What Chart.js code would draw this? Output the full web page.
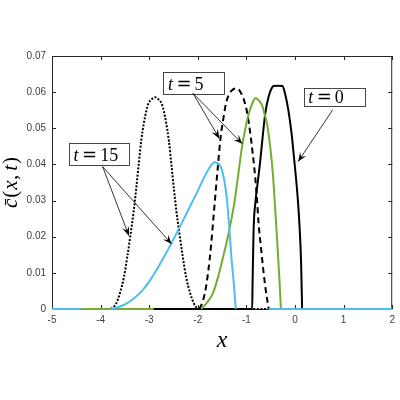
<!DOCTYPE html>
<html><head><meta charset="utf-8">
<script src="https://cdn.jsdelivr.net/npm/chart.js@4.4.1/dist/chart.umd.min.js"></script>
<style>html,body{margin:0;padding:0;background:#fff}canvas{display:block}</style>
</head><body>
<canvas id="c" width="400" height="400"></canvas>
<script>
// ---- axis ticks ----
const xTicks = [-5, -4, -3, -2, -1, 0, 1, 2];
const yTicks = [0, 0.01, 0.02, 0.03, 0.04, 0.05, 0.06, 0.07];
const yTickLabels = ['0', '0.01', '0.02', '0.03', '0.04', '0.05', '0.06', '0.07'];

// ---- t = 0 (black solid) ----
const t0X = [-2.91, -0.882, -0.872, -0.852, -0.811, -0.761, -0.714, -0.665, -0.612, -0.544, -0.49, -0.442, -0.35, -0.26, -0.207, -0.138, -0.071, -0.016, 0.024, 0.065, 0.097, 0.125, 0.146];
const t0Y = [0, 0, 0.008, 0.022, 0.030, 0.0357, 0.0412, 0.0477, 0.0541, 0.0587, 0.0608, 0.0617, 0.0618, 0.0617, 0.0597, 0.0551, 0.0486, 0.0412, 0.0357, 0.029, 0.0219, 0.013, 0];

// ---- t = 5 (black dashed) ----
const t5aX = [-1.97, -1.90, -1.83, -1.78, -1.73, -1.68, -1.63, -1.58, -1.53, -1.47, -1.42, -1.35, -1.29, -1.22, -1.15, -1.10, -1.05, -0.98, -0.92, -0.87, -0.82, -0.78, -0.75, -0.70, -0.66, -0.60, -0.54];
const t5aY = [0, 0.0020, 0.0062, 0.0110, 0.0172, 0.0250, 0.0329, 0.0405, 0.0477, 0.0530, 0.0569, 0.0596, 0.0606, 0.0610, 0.0606, 0.0595, 0.0578, 0.0540, 0.0486, 0.0430, 0.0366, 0.0300, 0.0237, 0.0170, 0.0117, 0.0050, 0];

// ---- t = 5 (green) ----
const t5bX = [-4.41, -2.91, -2.4, -1.93, -1.81, -1.69, -1.58, -1.46, -1.35, -1.25, -1.17, -1.09, -1.02, -0.95, -0.87, -0.815, -0.75, -0.68, -0.62, -0.578, -0.511, -0.456, -0.40, -0.36, -0.32, -0.29];
const t5bY = [0, 0, null, 0, 0.0018, 0.0043, 0.0090, 0.0154, 0.0220, 0.0292, 0.0370, 0.0449, 0.0500, 0.0541, 0.0572, 0.0583, 0.0578, 0.0564, 0.0536, 0.0514, 0.0449, 0.0375, 0.0260, 0.0172, 0.0080, 0];

// ---- t = 15 (black dotted) ----
const t15aX = [-3.79, -3.68, -3.60, -3.52, -3.45, -3.38, -3.32, -3.27, -3.22, -3.165, -3.11, -3.06, -3.015, -2.95, -2.88, -2.81, -2.745, -2.70, -2.65, -2.595, -2.54, -2.49, -2.44, -2.38, -2.31, -2.24, -2.16, -2.08, -2.00, -1.4, -0.86, -0.56];
const t15aY = [0, 0.0015, 0.0045, 0.0088, 0.0145, 0.0210, 0.0270, 0.0330, 0.0395, 0.0465, 0.0514, 0.0548, 0.0569, 0.0580, 0.0586, 0.0580, 0.0569, 0.0548, 0.0514, 0.0465, 0.0395, 0.0330, 0.0270, 0.0210, 0.0145, 0.0088, 0.0045, 0.0015, 0, null, 0, 0];

// ---- t = 15 (blue) ----
const t15bX = [-5, -4.41, -4.1, -3.79, -3.64, -3.48, -3.31, -3.15, -2.98, -2.81, -2.68, -2.54, -2.41, -2.27, -2.13, -2.0, -1.90, -1.80, -1.73, -1.66, -1.59, -1.525, -1.456, -1.40, -1.355, -1.31, -1.254, -1.22, -0.9, -0.54, 2];
const t15bY = [0, 0, null, 0, 0.0005, 0.0014, 0.0030, 0.0050, 0.0080, 0.0117, 0.0148, 0.0183, 0.0217, 0.0254, 0.0292, 0.0327, 0.0356, 0.0382, 0.0397, 0.0406, 0.0403, 0.0392, 0.0357, 0.0302, 0.0228, 0.0145, 0.0062, 0, null, 0, 0];

// ---- annotation labels ----
const noteNums = ['15', '5', '0'];

// annotation placement (data units)
const notes = [
  {box: [-4.649, 0.0460, -3.417, 0.0400], from: [-3.959, 0.0394], to: [[-3.418, 0.0203], [-2.540, 0.0180]]},
  {box: [-2.708, 0.0657, -1.444, 0.0597], from: [-2.099, 0.0597], to: [[-1.558, 0.0472], [-1.085, 0.0457]]},
  {box: [0.178, 0.0611, 1.436, 0.0560], from: [0.775, 0.0551], to: [[0.065, 0.0408]]}
];

function pts(xs, ys) { return xs.map((x, i) => ({x: x, y: ys[i]})); }

const SERIF = '"Liberation Serif", "DejaVu Serif", serif';

function drawSegs(ctx, segs, x, y, doDraw) {
  let cx = x;
  for (const s of segs) {
    ctx.font = s.f;
    cx += (s.pre || 0);
    if (doDraw) ctx.fillText(s.t, cx, y);
    cx += ctx.measureText(s.t).width + (s.post || 0);
  }
  return cx - x;
}

function arrowHead(ctx, x0, y0, x1, y1) {
  const dx = x1 - x0, dy = y1 - y0, len = Math.hypot(dx, dy);
  const ux = dx / len, uy = dy / len, nx = -uy, ny = ux;
  const L = 9, W = 3.6;
  ctx.beginPath();
  ctx.moveTo(x1, y1);
  ctx.lineTo(x1 - L * ux + W * nx, y1 - L * uy + W * ny);
  ctx.lineTo(x1 - 0.6 * L * ux, y1 - 0.6 * L * uy);
  ctx.lineTo(x1 - L * ux - W * nx, y1 - L * uy - W * ny);
  ctx.closePath();
  ctx.fill();
}

const decor = {
  id: 'decor',
  beforeDatasetsDraw(chart) {
    const ctx = chart.ctx, a = chart.chartArea, xs = chart.scales.x, ys = chart.scales.y;
    ctx.save();
    ctx.strokeStyle = '#262626';
    ctx.lineWidth = 1;
    ctx.strokeRect(a.left + 0.5, a.top + 0.5, a.right - a.left - 1, a.bottom - a.top);
    ctx.beginPath();
    for (const v of xTicks) {
      const px = Math.round(xs.getPixelForValue(v)) + 0.5;
      ctx.moveTo(px, a.bottom); ctx.lineTo(px, a.bottom - 4);
      ctx.moveTo(px, a.top); ctx.lineTo(px, a.top + 4);
    }
    for (const v of yTicks) {
      const py = Math.round(ys.getPixelForValue(v)) + 0.5;
      ctx.moveTo(a.left, py); ctx.lineTo(a.left + 4, py);
      ctx.moveTo(a.right, py); ctx.lineTo(a.right - 4, py);
    }
    ctx.stroke();
    ctx.restore();
  },
  afterDraw(chart) {
    const ctx = chart.ctx, a = chart.chartArea, xs = chart.scales.x, ys = chart.scales.y;
    ctx.save();
    ctx.fillStyle = '#000';
    ctx.textBaseline = 'alphabetic';
    ctx.textAlign = 'left';
    ctx.font = 'italic 24px ' + SERIF;
    const xw = ctx.measureText('x').width;
    ctx.fillText('x', (a.left + a.right) / 2 - xw / 2, 347);

    const ySegs = [
      {t: 'c\u0304', f: 'italic 21px ' + SERIF, post: 1},
      {t: '(', f: '21px ' + SERIF, post: 1},
      {t: 'x', f: 'italic 21px ' + SERIF, post: 0.5},
      {t: ',', f: '21px ' + SERIF, post: 4},
      {t: 't', f: 'italic 21px ' + SERIF, post: 1},
      {t: ')', f: '21px ' + SERIF}
    ];
    ctx.save();
    ctx.translate(17, (a.top + a.bottom) / 2);
    ctx.rotate(-Math.PI / 2);
    const yw = drawSegs(ctx, ySegs, 0, 0, false);
    drawSegs(ctx, ySegs, -yw / 2, 0, true);
    ctx.restore();

    notes.forEach((n, i) => {
      const bx0 = xs.getPixelForValue(n.box[0]), by0 = ys.getPixelForValue(n.box[1]);
      const bx1 = xs.getPixelForValue(n.box[2]), by1 = ys.getPixelForValue(n.box[3]);
      ctx.strokeStyle = '#333';
      ctx.lineWidth = 0.9;
      ctx.strokeRect(Math.round(bx0) + 0.5, Math.round(by0) + 0.5, Math.round(bx1 - bx0), Math.round(by1 - by0));
      ctx.fillStyle = '#000';
      const segs = [
        {t: 't', f: 'italic 18px ' + SERIF, post: 3.5},
        {t: '=', f: '18px "DejaVu Serif", serif', post: 3},
        {t: noteNums[i], f: '18px ' + SERIF}
      ];
      drawSegs(ctx, segs, bx0 + 4.5, by1 - 3.5, true);
      const fx = xs.getPixelForValue(n.from[0]), fy = ys.getPixelForValue(n.from[1]);
      ctx.strokeStyle = '#000';
      ctx.lineWidth = 0.8;
      for (const t of n.to) {
        const tx = xs.getPixelForValue(t[0]), ty = ys.getPixelForValue(t[1]);
        ctx.beginPath(); ctx.moveTo(fx, fy); ctx.lineTo(tx, ty); ctx.stroke();
        arrowHead(ctx, fx, fy, tx, ty);
      }
    });
    ctx.restore();
  }
};

const common = {pointRadius: 0, borderWidth: 2, cubicInterpolationMode: 'monotone', spanGaps: false, fill: false, clip: false};

new Chart(document.getElementById('c'), {
  type: 'line',
  data: {
    datasets: [
      Object.assign({data: pts(t15bX, t15bY), borderColor: '#4DBEEE'}, common),
      Object.assign({data: pts(t5bX, t5bY), borderColor: '#77AC30'}, common),
      Object.assign({data: pts(t0X, t0Y), borderColor: '#000000'}, common),
      Object.assign({data: pts(t5aX, t5aY), borderColor: '#000000', borderDash: [6, 4]}, common),
      Object.assign({data: pts(t15aX, t15aY), borderColor: '#000000', borderDash: [2, 1.6]}, common)
    ]
  },
  options: {
    responsive: false,
    animation: false,
    devicePixelRatio: 1,
    layout: {padding: {top: 56, right: 3, left: 0, bottom: 0}},
    plugins: {legend: {display: false}, tooltip: {enabled: false}},
    scales: {
      x: {
        type: 'linear', min: -5, max: 2,
        grid: {display: false, drawTicks: false},
        border: {display: false},
        afterBuildTicks: s => { s.ticks = xTicks.map(v => ({value: v})); },
        afterFit: s => { s.height = 91; },
        ticks: {padding: 5, color: '#404040', font: {family: '"Liberation Sans", Arial, sans-serif', size: 10}, maxRotation: 0,
          callback: v => String(v)}
      },
      y: {
        type: 'linear', min: 0, max: 0.07,
        grid: {display: false, drawTicks: false},
        border: {display: false},
        afterBuildTicks: s => { s.ticks = yTicks.map(v => ({value: v})); },
        afterFit: s => { s.width = 52; },
        ticks: {padding: 6, color: '#404040', font: {family: '"Liberation Sans", Arial, sans-serif', size: 10},
          callback: (v, i) => yTickLabels[i]}
      }
    }
  },
  plugins: [decor]
});
</script>
</body></html>
